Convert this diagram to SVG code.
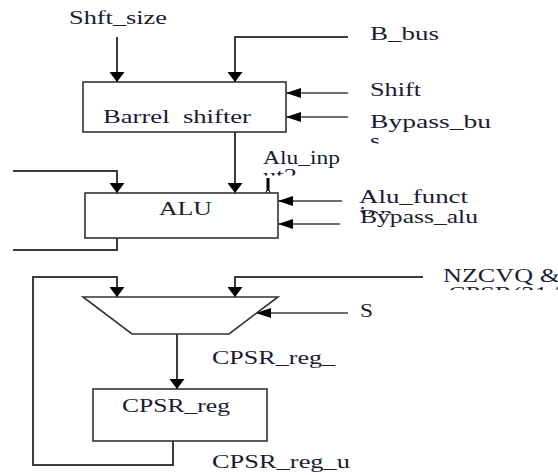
<svg xmlns="http://www.w3.org/2000/svg" width="558" height="475" viewBox="0 0 558 475">
<style>
text{font-family:"Liberation Serif","Times New Roman",serif;font-size:18px;fill:#1b1b33}
.box{fill:#fff;stroke:#333;stroke-width:1.6}
.w{fill:none;stroke:#3c3c3c;stroke-width:1.5}
.v{fill:none;stroke:#3c3c3c;stroke-width:2}
</style>
<defs>
<marker id="ad" markerUnits="userSpaceOnUse" markerWidth="10" markerHeight="15" refX="10" refY="7.5" orient="auto"><path d="M0,0 L10,7.5 L0,15 z" fill="#000"/></marker>
<marker id="al" markerUnits="userSpaceOnUse" markerWidth="15" markerHeight="10" refX="15" refY="5" orient="auto"><path d="M0,0 L15,5 L0,10 z" fill="#000"/></marker>
<clipPath id="c1"><rect x="360" y="130" width="150" height="13.5"/></clipPath>
<clipPath id="c2"><rect x="255" y="166" width="100" height="9.5"/></clipPath>
<clipPath id="c3"><rect x="350" y="205" width="150" height="8.5"/></clipPath>
<clipPath id="c4"><rect x="430" y="284" width="128" height="6"/></clipPath>
</defs>
<rect width="558" height="475" fill="#fff"/>
<g id="connectors">
<line class="v" x1="117" y1="37" x2="117" y2="82" marker-end="url(#ad)"/>
<polyline class="v" points="348,37 235,37 235,82" marker-end="url(#ad)"/>
<line class="w" x1="348" y1="93" x2="286" y2="93" marker-end="url(#al)"/>
<line class="w" x1="348" y1="117" x2="286" y2="117" marker-end="url(#al)"/>
<line class="v" x1="235" y1="132" x2="235" y2="193" marker-end="url(#ad)"/>
<polyline class="v" points="13,171 117,171 117,193" marker-end="url(#ad)"/>
<polyline class="v" points="117,238 117,250 13,250"/>
<line x1="268" y1="178" x2="268" y2="191" stroke="#000" stroke-width="3"/>
<circle cx="268" cy="192" r="1.8" fill="#fff" stroke="#000" stroke-width="1"/>
<line class="w" x1="342" y1="201" x2="278" y2="201" marker-end="url(#al)"/>
<line class="w" x1="340" y1="224" x2="278" y2="224" marker-end="url(#al)"/>
<polyline class="v" points="423,277 235,277 235,297" marker-end="url(#ad)"/>
<polyline class="v" points="173,441 173,465 33,465 33,277 117,277 117,297" marker-end="url(#ad)"/>
<line class="w" x1="348" y1="313" x2="256" y2="313" marker-end="url(#al)"/>
<line class="v" x1="177" y1="334" x2="177" y2="389" marker-end="url(#ad)"/>
</g>
<g id="barrel_shifter">
<rect class="box" x="83" y="82" width="203" height="50"/>
<text x="103" y="123" textLength="148" lengthAdjust="spacingAndGlyphs">Barrel&#160; shifter</text>
</g>
<g id="alu">
<rect class="box" x="85" y="193" width="193" height="45"/>
<text x="159" y="215" textLength="53" lengthAdjust="spacingAndGlyphs">ALU</text>
</g>
<g id="mux">
<polygon class="box" points="83,297 278,297 229,334 132,334"/>
</g>
<g id="cpsr_reg">
<rect class="box" x="93" y="389" width="174" height="52"/>
<text x="122" y="412" textLength="108" lengthAdjust="spacingAndGlyphs">CPSR_reg</text>
</g>
<g id="labels">
<text x="69" y="24" textLength="98" lengthAdjust="spacingAndGlyphs">Shft_size</text>
<text x="370" y="40" textLength="69" lengthAdjust="spacingAndGlyphs">B_bus</text>
<text x="370" y="96" textLength="51" lengthAdjust="spacingAndGlyphs">Shift</text>
<text x="370" y="128" textLength="121" lengthAdjust="spacingAndGlyphs">Bypass_bu</text>
<text x="370" y="147" textLength="10" lengthAdjust="spacingAndGlyphs" clip-path="url(#c1)">s</text>
<text x="263" y="164" textLength="77" lengthAdjust="spacingAndGlyphs">Alu_inp</text>
<text x="263" y="182" textLength="34" lengthAdjust="spacingAndGlyphs" clip-path="url(#c2)">ut2</text>
<text x="359" y="203" textLength="109" lengthAdjust="spacingAndGlyphs">Alu_funct</text>
<text x="359" y="220" textLength="34" lengthAdjust="spacingAndGlyphs" clip-path="url(#c3)">ion</text>
<text x="360" y="223" textLength="118" lengthAdjust="spacingAndGlyphs">Bypass_alu</text>
<text x="443" y="282" textLength="117" lengthAdjust="spacingAndGlyphs">NZCVQ &amp;</text>
<text x="448" y="300" textLength="142" lengthAdjust="spacingAndGlyphs" clip-path="url(#c4)">CPSR(31:27)</text>
<text x="360" y="317" textLength="13" lengthAdjust="spacingAndGlyphs">S</text>
<text x="212" y="364" textLength="123" lengthAdjust="spacingAndGlyphs">CPSR_reg_</text>
<text x="212" y="468" textLength="138" lengthAdjust="spacingAndGlyphs">CPSR_reg_u</text>
</g>
</svg>
